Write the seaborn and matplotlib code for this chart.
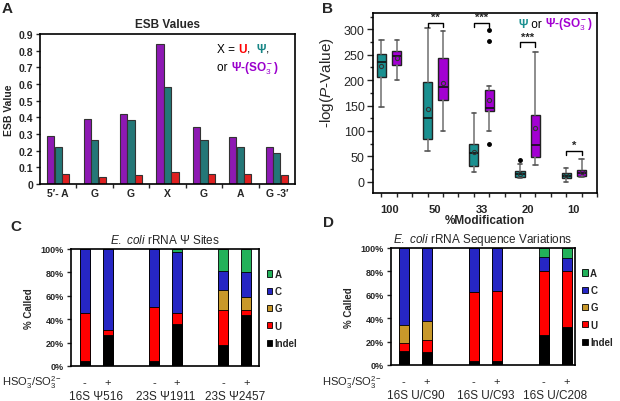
import numpy as np
import pandas as pd
import matplotlib
matplotlib.use("Agg")
import matplotlib.pyplot as plt
import matplotlib.transforms as mtransforms
import seaborn as sns
from matplotlib.offsetbox import TextArea, HPacker, VPacker, AnchoredOffsetbox
from matplotlib.patches import Patch

# ---------------- data ----------------
# Panel A
esb_bases = ["5\u2032- A", "G", "G", "X", "G", "A", "G -3\u2032"]
esb_so3 = [0.29, 0.39, 0.42, 0.84, 0.34, 0.28, 0.22]
esb_psi = [0.22, 0.265, 0.385, 0.58, 0.265, 0.22, 0.185]
esb_u = [0.06, 0.045, 0.055, 0.07, 0.06, 0.06, 0.055]

# Panel B
mod_labels = ["100", "50", "33", "20", "10"]
psi_whislo = [148, 61, 20, 7, 0]
psi_q1 = [206, 84, 32, 9, 7]
psi_med = [235, 125, 56, 16, 12]
psi_q3 = [252, 197, 74, 22, 18]
psi_whishi = [279, 302, 135, 36, 28]
psi_mean = [227, 144, 59, 16, 14]
psi_fliers = [[], [], [], [43], []]
so3_whislo = [201, 99, 99, 33, 10]
so3_q1 = [230, 160, 140, 49, 11]
so3_med = [248, 187, 145, 72, 18]
so3_q3 = [257, 244, 180, 132, 24]
so3_whishi = [279, 297, 189, 256, 44]
so3_mean = [244, 194, 160, 106, 20]
so3_fliers = [[], [], [299, 277, 74], [], []]
sig_marks = ["", "**", "***", "***", "*"]
sig_level = [None, 313, 313, 275, 61]

# Panel C
c_sites = ["16S \u03a8516", "23S \u03a81911", "23S \u03a82457"]
treat = ["-", "+"]
c_indel = [4.3, 26.6, 4.3, 36.3, 18.0, 43.7]
c_u = [40.7, 4.0, 46.3, 8.7, 29.7, 4.0]
c_g = [0, 0, 0, 0, 17.3, 11.7]
c_c = [55.0, 69.4, 49.4, 52.7, 16.0, 20.6]
c_a = [0, 0, 0, 2.3, 19.0, 20.0]

# Panel D
d_sites = ["16S U/C90", "16S U/C93", "16S U/C208"]
d_indel = [12.0, 11.5, 3.4, 3.4, 25.8, 32.7]
d_u = [7.2, 9.5, 59.4, 60.2, 54.2, 47.3]
d_g = [14.9, 17.0, 0, 0, 0, 0]
d_c = [65.9, 62.0, 37.2, 36.4, 12.3, 11.7]
d_a = [0, 0, 0, 0, 7.7, 8.3]

base_names = ["A", "C", "G", "U", "Indel"]

# ---------------- style ----------------
sns.set_theme(style="white")
plt.rcParams["font.family"] = ["Liberation Sans", "DejaVu Sans"]
plt.rcParams["mathtext.fontset"] = "custom"
plt.rcParams["mathtext.rm"] = "Liberation Sans"
plt.rcParams["mathtext.it"] = "Liberation Sans:italic"
plt.rcParams["mathtext.bf"] = "Liberation Sans:bold"
plt.rcParams["axes.edgecolor"] = "black"
plt.rcParams["axes.linewidth"] = 1.2

PURPLE_A = "#9a00cc"
TEAL_A = "#168585"
RED = "#ff0000"
TEAL_B = "#1a9090"
PURPLE_B = "#a300d2"
COL_A = "#22b25a"
COL_C = "#2626c4"
COL_G = "#c8982a"
COL_U = "#ff0000"
COL_I = "#000000"

W, H = 620, 402
fig = plt.figure(figsize=(W / 100, H / 100), dpi=100)


def rect(l, r, t, b):
    return [l / W, 1 - b / H, (r - l) / W, (b - t) / H]


# ---------------- Panel A ----------------
axA = fig.add_axes(rect(40, 295, 35, 185))
dfA = pd.DataFrame({
    "pos": list(range(7)) * 3,
    "value": esb_so3 + esb_psi + esb_u,
    "series": ["so3"] * 7 + ["psi"] * 7 + ["u"] * 7,
})
sns.barplot(data=dfA, x="pos", y="value", hue="series",
            palette={"so3": PURPLE_A, "psi": TEAL_A, "u": RED},
            width=0.62, gap=0.04, edgecolor="#333333", linewidth=0.8,
            legend=False, ax=axA, errorbar=None)
axA.set_xlim(-0.5, 6.5)
axA.set_ylim(0, 0.9)
axA.set_yticks(np.arange(0, 0.91, 0.1))
axA.set_yticklabels(["0"] + [f"{v:.1f}" for v in np.arange(0.1, 0.91, 0.1)],
                    fontsize=7.5, fontweight="bold")
axA.set_xticks(range(7))
axA.set_xticklabels(esb_bases, fontsize=7.5, fontweight="bold")
axA.set_xticks(np.arange(0.5, 6, 1), minor=True)
axA.tick_params(axis="x", which="major", length=0, pad=3)
axA.tick_params(axis="x", which="minor", length=3, width=1, direction="out", bottom=True)
axA.tick_params(axis="y", length=3, width=1, direction="out", left=True, pad=2)
axA.set_xlabel("")
axA.set_ylabel("ESB Value", fontsize=7.5, fontweight="bold", labelpad=3)
axA.set_title("ESB Values", fontsize=8.5, fontweight="bold", pad=5)
for s in axA.spines.values():
    s.set_visible(True)
    s.set_color("black")

fs = 8.5
l1 = HPacker(children=[
    TextArea("X = ", textprops=dict(color="black", fontsize=fs)),
    TextArea("U", textprops=dict(color=RED, fontsize=fs, fontweight="bold")),
    TextArea(",  ", textprops=dict(color="black", fontsize=fs)),
    TextArea("\u03a8", textprops=dict(color=TEAL_A, fontsize=fs, fontweight="bold")),
    TextArea(",", textprops=dict(color="black", fontsize=fs)),
], align="baseline", pad=0, sep=0)
l2 = HPacker(children=[
    TextArea("or ", textprops=dict(color="black", fontsize=fs)),
    TextArea(r"$\mathbf{\Psi}$-(SO$_3^{\bf -}$)",
             textprops=dict(color=PURPLE_A, fontsize=fs, fontweight="bold")),
], align="baseline", pad=0, sep=0)
boxA = AnchoredOffsetbox(loc="upper left",
                         child=VPacker(children=[l1, l2], align="left", pad=0, sep=3),
                         bbox_to_anchor=(0.695, 0.94), bbox_transform=axA.transAxes,
                         frameon=False, pad=0, borderpad=0)
axA.add_artist(boxA)

# ---------------- Panel B ----------------
axB = fig.add_axes(rect(373, 597, 14, 194))


def make_stats(wl, q1, md, q3, wh, mn, fl):
    return [dict(whislo=a, q1=b, med=c, q3=d, whishi=e, mean=f, fliers=g)
            for a, b, c, d, e, f, g in zip(wl, q1, md, q3, wh, mn, fl)]


groups = np.arange(len(mod_labels))
pos_psi = groups * 3 + 1
pos_so3 = groups * 3 + 2
for stats, pos, col in [
    (make_stats(psi_whislo, psi_q1, psi_med, psi_q3, psi_whishi, psi_mean, psi_fliers), pos_psi, TEAL_B),
    (make_stats(so3_whislo, so3_q1, so3_med, so3_q3, so3_whishi, so3_mean, so3_fliers), pos_so3, PURPLE_B),
]:
    bp = axB.bxp(stats, positions=pos, widths=0.6, capwidths=0.28, patch_artist=True,
                 showmeans=True, manage_ticks=False,
                 boxprops=dict(facecolor=col, edgecolor="#222222", linewidth=1.0),
                 medianprops=dict(color="#111111", linewidth=1.2),
                 whiskerprops=dict(color="#7a7a7a", linewidth=1.2),
                 capprops=dict(color="#555555", linewidth=1.2),
                 meanprops=dict(marker="o", markersize=3, markerfacecolor="none",
                                markeredgecolor="#333333", markeredgewidth=0.8),
                 flierprops=dict(marker="o", markersize=2.5, markerfacecolor="black",
                                 markeredgecolor="black"))

for i, (mark, lev) in enumerate(zip(sig_marks, sig_level)):
    if not mark:
        continue
    x1, x2 = pos_psi[i], pos_so3[i]
    axB.plot([x1, x1, x2, x2], [lev - 9, lev, lev, lev - 9], color="black", lw=1)
    axB.text((x1 + x2) / 2, lev + 1, mark, ha="center", va="bottom", fontsize=8,
             fontweight="bold")

axB.set_xlim(0.45, 14.6)
axB.set_ylim(-22, 332)
axB.set_yticks(np.arange(0, 301, 50))
axB.set_yticks(np.arange(25, 326, 50), minor=True)
axB.tick_params(axis="y", which="major", labelsize=9, length=4, width=1, direction="out", left=True, pad=2)
axB.tick_params(axis="y", which="minor", length=2.5, width=1, direction="out", left=True)
axB.set_xticks((pos_psi + pos_so3) / 2)
axB.set_xticklabels(mod_labels, fontsize=8, fontweight="bold")
axB.set_xticks(np.concatenate([pos_psi, pos_so3, groups * 3 + 3]), minor=True)
axB.tick_params(axis="x", which="major", length=0, pad=8)
axB.tick_params(axis="x", which="minor", length=3, width=1, direction="out", bottom=True)
axB.set_xlabel("%Modification", fontsize=8.5, fontweight="bold", labelpad=0)
axB.set_ylabel(r"-log($\mathit{P}$-Value)", fontsize=11)
axB.yaxis.set_label_coords(-0.165, 0.62)
for s in axB.spines.values():
    s.set_visible(True)
    s.set_color("black")

fsB = 8.5
lb = HPacker(children=[
    TextArea("\u03a8", textprops=dict(color=TEAL_B, fontsize=fsB, fontweight="bold")),
    TextArea(" or ", textprops=dict(color="black", fontsize=fsB)),
    TextArea(r"$\mathbf{\Psi}$-(SO$_3^{\bf -}$)",
             textprops=dict(color=PURPLE_B, fontsize=fsB, fontweight="bold")),
], align="baseline", pad=0, sep=0)
boxB = AnchoredOffsetbox(loc="upper right", child=lb,
                         bbox_to_anchor=(0.98, 0.985), bbox_transform=axB.transAxes,
                         frameon=False, pad=0, borderpad=0)
axB.add_artist(boxB)


# ---------------- Panels C / D ----------------
def stacked(ax, indel, u, g, c, a, sites, title_rest, xlim):
    positions = []
    for k in range(len(sites)):
        positions += [3 * k, 3 * k + 1]
    segs = [indel, u, g, c, a]
    cols = [COL_I, COL_U, COL_G, COL_C, COL_A]
    cum = np.cumsum(np.array(segs, dtype=float), axis=0)
    for lvl in range(len(segs) - 1, -1, -1):
        sns.barplot(x=positions, y=cum[lvl], native_scale=True, color=cols[lvl],
                    saturation=1, width=0.43, edgecolor="black", linewidth=0.6,
                    errorbar=None, ax=ax)
    ax.set_xlim(*xlim)
    ax.set_ylim(0, 100)
    ax.set_yticks(np.arange(0, 101, 20))
    ax.set_yticklabels([f"{v}%" for v in range(0, 101, 20)], fontsize=6.5, fontweight="bold")
    ax.tick_params(axis="y", length=3, width=1, direction="out", left=True, pad=2)
    ax.set_xticks([])
    ax.set_ylabel("% Called", fontsize=7, fontweight="bold", labelpad=5)
    ax.set_xlabel("")
    ax.set_title(r"$\mathit{E.\ coli}$" + title_rest, fontsize=8.5, pad=4)
    for s in ax.spines.values():
        s.set_visible(True)
        s.set_color("black")
    trans = mtransforms.blended_transform_factory(ax.transData, ax.transAxes)
    for k, site in enumerate(sites):
        for j, t in enumerate(treat):
            ax.text(3 * k + j, -0.135, t, transform=trans, ha="center", va="center", fontsize=8)
        ax.text(3 * k + 0.5, -0.255, site, transform=trans, ha="center", va="center", fontsize=8.5)
    handles = [Patch(facecolor=col, edgecolor="black", linewidth=0.6)
               for col in [COL_A, COL_C, COL_G, COL_U, COL_I]]
    ax.legend(handles, base_names, loc="upper left", bbox_to_anchor=(1.04, 0.83),
              frameon=False, handlelength=0.6, handleheight=0.6, handletextpad=0.2,
              labelspacing=0.75, borderpad=0, borderaxespad=0,
              prop=dict(size=7, weight="bold"))


axC = fig.add_axes(rect(71, 259, 250, 367))
stacked(axC, c_indel, c_u, c_g, c_c, c_a, c_sites, r" rRNA $\Psi$ Sites", (-0.6, 7.55))
axD = fig.add_axes(rect(391, 575, 249, 366))
stacked(axD, d_indel, d_u, d_g, d_c, d_a, d_sites, " rRNA Sequence Variations", (-0.55, 7.35))

hso = r"HSO$_3^{-}$/SO$_3^{2-}$"
fig.text(2 / W, 1 - 383 / H, hso, ha="left", va="center", fontsize=8)
fig.text(322 / W, 1 - 383 / H, hso, ha="left", va="center", fontsize=8)

# panel letters
for lab, x, y in [("A", 2, 9), ("B", 322, 9), ("C", 10, 227), ("D", 323, 223)]:
    fig.text(x / W, 1 - y / H, lab, ha="left", va="center", fontsize=11, fontweight="bold")

fig.savefig("out.png", dpi=100)
